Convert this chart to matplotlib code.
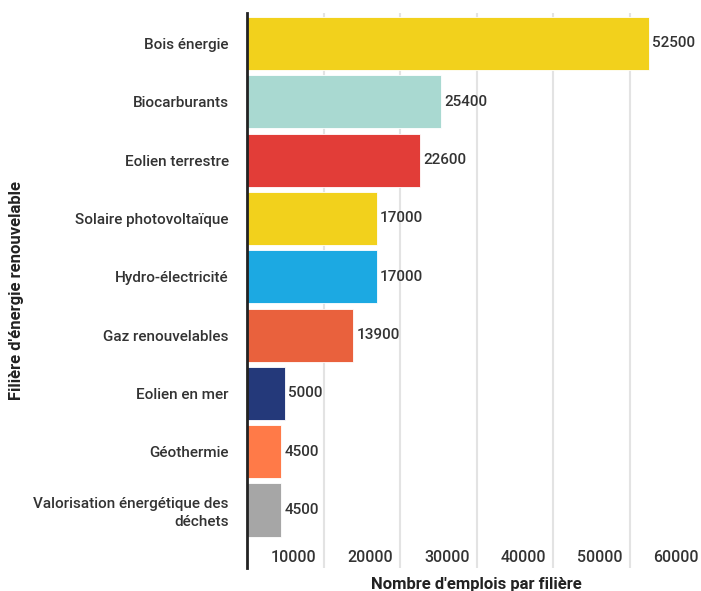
import matplotlib.pyplot as plt
from matplotlib.transforms import ScaledTranslation

# emplois par filière
filieres = ['Bois énergie', 'Biocarburants', 'Eolien terrestre',
            'Solaire photovoltaïque', 'Hydro-électricité', 'Gaz renouvelables',
            'Eolien en mer', 'Géothermie',
            'Valorisation énergétique des\ndéchets']
emplois = [52500, 25400, 22600, 17000, 17000, 13900, 5000, 4500, 4500]
couleurs = ['#F2D11C', '#A9D9D1', '#E23D38', '#F2D11C', '#1CA9E2',
            '#E9613D', '#24397A', '#FF7A48', '#A6A6A6']
ticks = [10000, 20000, 30000, 40000, 50000, 60000]

plt.rcParams['font.family'] = ['Roboto', 'DejaVu Sans']
txt = '#333333'

fig = plt.figure(figsize=(7.01, 5.91), dpi=100)
ax = fig.add_axes([247/701, 1 - 568/591, 459/701, 555/591])

pos = list(range(len(filieres)))
ax.barh(pos, emplois, height=0.91, color=couleurs, edgecolor='white',
        linewidth=0.6, zorder=2)
ax.set_ylim(8.995, -0.523)
ax.set_xlim(0, 60000)

ax.set_yticks(pos)
ax.set_yticklabels(filieres, fontsize=11, color=txt, ha='right',
                   fontweight='medium', linespacing=1.3)
ax.tick_params(axis='y', length=0, pad=13)

# valeurs au bout des barres
off = ScaledTranslation(3/100, 0, fig.dpi_scale_trans)
for p, v in zip(pos, emplois):
    ax.text(v, p, str(v), va='center', ha='left', fontsize=11,
            color=txt, fontweight='medium', transform=ax.transData + off)

# graduations : lignes verticales, libellés à gauche de la ligne
ax.set_xticks([])
for t in ticks:
    ax.axvline(t, color='#e3e3e3', linewidth=1.5, zorder=1)
    ax.text(t, 8.82, str(t), ha='right', va='center', fontsize=11.5,
            color=txt, fontweight='medium', transform=ax.transData +
            ScaledTranslation(-7/100, 0, fig.dpi_scale_trans))

for s in ['top', 'right', 'bottom']:
    ax.spines[s].set_visible(False)
ax.spines['left'].set_color('#222222')
ax.spines['left'].set_linewidth(2)

fig.text(476/701, 1 - 585/591, "Nombre d'emplois par filière", ha='center',
         va='center', fontsize=12, fontweight='bold', color='#222222')
fig.text(17/701, 1 - 290/591, "Filière d'énergie renouvelable", ha='center',
         va='center', rotation=90, fontsize=12, fontweight='bold',
         color='#222222')

fig.savefig('out.png', dpi=100)
